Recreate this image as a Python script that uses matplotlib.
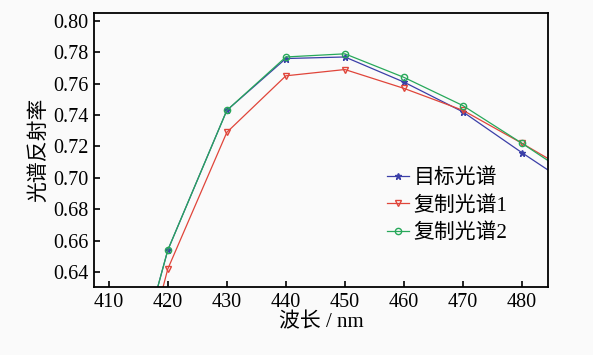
import numpy as np
import matplotlib.pyplot as plt

# wavelengths (nm) and reflectance values
wavelength = [410, 420, 430, 440, 450, 460, 470, 480, 490]
target = [0.516, 0.654, 0.743, 0.776, 0.777, 0.761, 0.742, 0.716, 0.691]
copy1 = [0.498, 0.642, 0.729, 0.765, 0.769, 0.757, 0.743, 0.722, 0.700]
copy2 = [0.516, 0.654, 0.743, 0.777, 0.779, 0.764, 0.746, 0.722, 0.697]

labels = ['目标光谱', '复制光谱1', '复制光谱2']
xticks = [410, 420, 430, 440, 450, 460, 470, 480]
yticks = [0.64, 0.66, 0.68, 0.70, 0.72, 0.74, 0.76, 0.78, 0.80]

plt.rcParams['font.family'] = ['Liberation Serif', 'Noto Sans CJK SC']
plt.rcParams['font.size'] = 14

fig = plt.figure(figsize=(5.93, 3.55), dpi=100, facecolor='#fafafa')
ax = fig.add_axes([94 / 593, 1 - 287 / 355, (548 - 94) / 593, (287 - 13) / 355])
ax.set_facecolor('#fafafa')

ax.plot(wavelength, target, color='#3b3fa8', lw=0.9, marker='*', ms=4.5, label=labels[0])
ax.plot(wavelength, copy1, color='#e0453a', lw=0.9, marker='v', ms=4.5,
        mfc='none', label=labels[1])
ax.plot(wavelength, copy2, color='#27a85a', lw=0.9, marker='o', ms=4.5,
        mfc='none', label=labels[2])

ax.set_xlim(407.5, 484.4)
ax.set_ylim(0.6305, 0.805)
ax.set_xticks(xticks)
ax.set_yticks(yticks)
ax.set_yticklabels([f'{v:.2f}' for v in yticks])
ax.tick_params(direction='in', length=4, width=1.2, labelsize=14.5, pad=4)
for s in ax.spines.values():
    s.set_linewidth(1.3)

ax.set_xlabel('波长 / nm', fontsize=15, labelpad=1)
ax.set_ylabel('光谱反射率', fontsize=15, labelpad=3)

ax.legend(loc='center left', bbox_to_anchor=(0.626, 0.297), frameon=False,
          fontsize=15, handlelength=1.1, handletextpad=0.2, labelspacing=0.38,
          borderaxespad=0)

fig.savefig('out.png', dpi=100, facecolor=fig.get_facecolor())
